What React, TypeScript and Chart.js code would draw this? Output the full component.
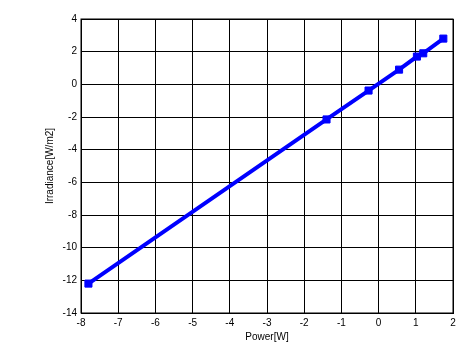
import React, { useEffect, useRef } from "react";
import { Chart, registerables } from "chart.js";

Chart.register(...registerables);

const powerW = [-7.8, -1.4, -0.27, 0.55, 1.03, 1.2, 1.74];
const irradiance = [-12.2, -2.15, -0.38, 0.9, 1.7, 1.9, 2.8];
const xTitle = "Power[W]";
const yTitle = "Irradiance[W/m2]";

export default function App() {
  const ref = useRef<HTMLCanvasElement | null>(null);
  useEffect(() => {
    document.body.style.margin = "0";
    const ctx = ref.current!;
    const font = { family: "Liberation Sans, Arial", size: 10 };
    const chart = new Chart(ctx, {
      type: "scatter",
      data: {
        datasets: [
          {
            data: powerW.map((x, i) => ({ x, y: irradiance[i] })),
            showLine: true,
            borderColor: "#0000ff",
            backgroundColor: "#0000ff",
            borderWidth: 4,
            pointStyle: "rect",
            pointRadius: 5,
            pointBorderWidth: 1,
          },
        ],
      },
      options: {
        animation: false,
        responsive: false,
        maintainAspectRatio: false,
        layout: { padding: { left: 44, right: 8, top: 19, bottom: 0 } },
        plugins: { legend: { display: false }, tooltip: { enabled: false } },
        scales: {
          x: {
            type: "linear",
            min: -8,
            max: 2,
            ticks: { stepSize: 1, color: "#000", font, padding: 4 },
            grid: { color: "#000", lineWidth: 1, drawTicks: false },
            border: { color: "#000", width: 1 },
            title: { display: true, text: xTitle, color: "#000", font, padding: { top: 2, bottom: 3 } },
            afterFit: (s: any) => { s.height = 33; },
          },
          y: {
            type: "linear",
            min: -14,
            max: 4,
            ticks: { stepSize: 2, color: "#000", font, padding: 4 },
            grid: { color: "#000", lineWidth: 1, drawTicks: false },
            border: { color: "#000", width: 1 },
            title: { display: true, text: yTitle, color: "#000", font, padding: { top: 0, bottom: 0 } },
            afterFit: (s: any) => { s.width = 37; },
          },
        },
      },
      plugins: [
        {
          id: "frame",
          afterDraw(c: any) {
            const { left, right, top, bottom } = c.chartArea;
            const g = c.ctx;
            g.save();
            g.strokeStyle = "#000";
            g.lineWidth = 1;
            g.strokeRect(left, top, right - left, bottom - top);
            g.restore();
          },
        },
      ],
    });
    return () => chart.destroy();
  }, []);
  return (
    <div style={{ position: "absolute", left: 0, top: 0, width: 461, height: 346, background: "#fff" }}>
      <canvas ref={ref} width={461} height={346} style={{ width: 461, height: 346 }} />
    </div>
  );
}
